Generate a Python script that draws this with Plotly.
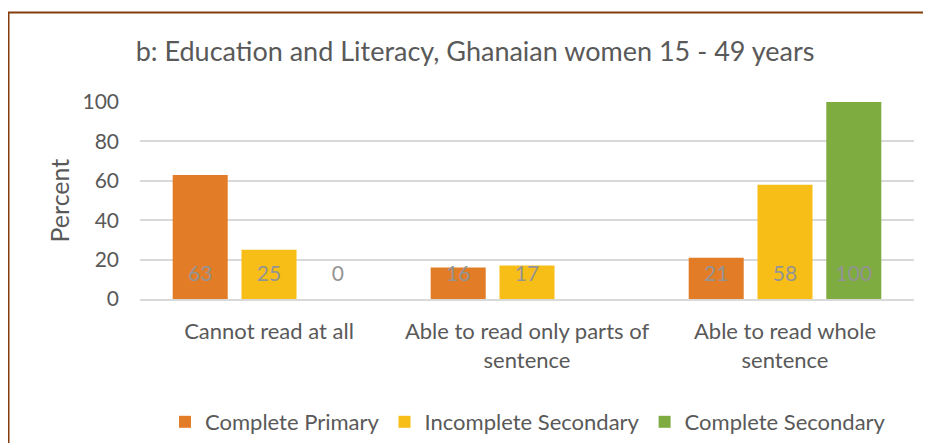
import plotly.graph_objects as go

categories = ["Cannot read at all", "Able to read only parts of<br>sentence", "Able to read whole<br>sentence"]
series_names = ["Complete Primary", "Incomplete Secondary", "Complete Secondary"]
complete_primary = [63, 16, 21]
incomplete_secondary = [25, 17, 58]
complete_secondary = [0, None, 100]
y_ticks = [0, 20, 40, 60, 80, 100]

colors = ["#E27C27", "#F7BE17", "#7EAC40"]
series_values = [complete_primary, incomplete_secondary, complete_secondary]

FONT = "Lato"
GRAY = "#595959"
LABEL_GRAY = "#949494"
LABEL_Y = 12.0

W, H = 923, 435
L, R, T, B = 132, 17, 94, 144
PW, PH = W - L - R, H - T - B

fig = go.Figure()
for i, (name, vals) in enumerate(zip(series_names, series_values)):
    fig.add_trace(go.Bar(
        x=categories, y=vals, name=name, marker_color=colors[i],
        marker_line_width=0, offsetgroup=str(i), hoverinfo="skip",
    ))
for i, (name, vals) in enumerate(zip(series_names, series_values)):
    fig.add_trace(go.Scatter(
        x=categories, y=[LABEL_Y] * len(vals), mode="text",
        text=["" if v is None else str(v) for v in vals],
        textfont=dict(family=FONT, size=21, color=LABEL_GRAY),
        textposition="middle center", offsetgroup=str(i),
        showlegend=False, hoverinfo="skip",
    ))

fig.update_layout(
    width=W, height=H,
    margin=dict(l=L, r=R, t=T, b=B, autoexpand=False),
    barmode="group", bargap=0.2, bargroupgap=0.2,
    scattermode="group", scattergap=0.2,
    plot_bgcolor="white", paper_bgcolor="white",
    font=dict(family=FONT, color=GRAY, size=21),
    title=dict(text="b: Education and Literacy, Ghanaian women 15 - 49 years",
               x=467 / W, xanchor="center", y=1 - 44 / H, yanchor="middle",
               yref="container", font=dict(family=FONT, size=27, color=GRAY)),
    legend=dict(orientation="h", x=520 / W, xanchor="center", xref="container",
                y=1 - 414 / H, yanchor="middle", yref="container",
                font=dict(family=FONT, size=22, color=GRAY), traceorder="normal"),
    showlegend=True,
)
fig.update_xaxes(showgrid=False, showline=True, linecolor="#D9D9D9", linewidth=1.5,
                 tickfont=dict(family=FONT, size=22, color=GRAY), ticks="",
                 ticklabelstandoff=12, automargin=False)
fig.update_yaxes(range=[0, 100], tickvals=y_ticks, showgrid=True, gridcolor="#D9D9D9",
                 gridwidth=1.5, zeroline=False, showline=False, ticks="",
                 tickfont=dict(family=FONT, size=21, color=GRAY), ticklabelstandoff=20,
                 automargin=False)
fig.add_annotation(text="Percent", xref="paper", yref="paper",
                   x=(50 - L) / PW, y=0.5, textangle=-90, showarrow=False,
                   font=dict(family=FONT, size=25, color=GRAY),
                   xanchor="center", yanchor="middle")
# chart border (brown frame)
fig.add_shape(type="rect", xref="paper", yref="paper",
              x0=(0.5 - L) / PW, x1=(W + 20 - L) / PW,
              y0=(291 - (H + 20)) / PH, y1=(291 - 4.5) / PH,
              line=dict(color="#843C0C", width=2), fillcolor="rgba(0,0,0,0)", layer="above")

fig.write_html("out.html")
